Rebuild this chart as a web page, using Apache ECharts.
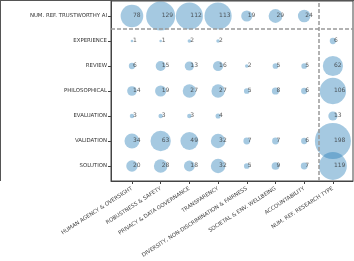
<!DOCTYPE html>
<html><head><meta charset="utf-8">
<script src="https://cdn.jsdelivr.net/npm/echarts@6/dist/echarts.min.js"></script>
<style>html,body{margin:0;padding:0;background:#fff}#c{width:354px;height:261px}</style>
</head><body><div id="c"></div>
<script>
const xCategories = ['HUMAN AGENCY & OVERSIGHT','ROBUSTNESS & SAFETY','PRIVACY & DATA GOVERNANCE','TRANSPARENCY','DIVERSITY, NON-DISCRIMINATION & FAIRNESS','SOCIETAL & ENV. WELLBEING','ACCOUNTABILITY','NUM. REF. RESEARCH TYPE'];
const yCategories = ['SOLUTION','VALIDATION','EVALUATION','PHILOSOPHICAL','REVIEW','EXPERIENCE','NUM. REF. TRUSTWORTHY AI'];
// values per row (null = no bubble), in xCategories order
const solution      = [20, 28, 18, 32, 5, 9, 7, 119];
const validation    = [34, 63, 49, 32, 7, 7, 6, 198];
const evaluation    = [3, 3, 3, 4, null, null, null, 13];
const philosophical = [14, 19, 27, 27, 5, 8, 6, 106];
const review        = [6, 15, 13, 16, 2, 5, 5, 62];
const experience    = [1, 1, 2, 2, null, null, null, 6];
const trustworthy   = [78, 129, 112, 113, 19, 29, 24, null];
const rows = [solution, validation, evaluation, philosophical, review, experience, trustworthy];

const data = [];
rows.forEach((r, yi) => r.forEach((v, xi) => { if (v != null) data.push([xi, yi, v]); }));

const chart = echarts.init(document.getElementById('c'), null, {renderer: 'canvas'});
const idx = (n) => Array.from({length: n}, (_, i) => i);
chart.setOption({
  animation: false,
  textStyle: {fontFamily: 'DejaVu Sans'},
  grid: {left: 111, right: 1, top: 1, bottom: 80, show: true, borderColor: '#444', borderWidth: 1, backgroundColor: 'transparent'},
  xAxis: {
    type: 'value', min: -0.73, max: 7.7,
    splitLine: {show: false},
    axisLine: {show: true, onZero: false, lineStyle: {color: '#444'}},
    axisTick: {show: true, length: 3, lineStyle: {color: '#444'}, customValues: idx(8)},
    axisLabel: {rotate: 33, fontSize: 5.4, color: '#444', margin: 7, customValues: idx(8),
      formatter: (v) => xCategories[Math.round(v)] || ''}
  },
  yAxis: {
    type: 'value', min: -0.6, max: 6.6,
    splitLine: {show: false},
    axisLine: {show: true, onZero: false, lineStyle: {color: '#444'}},
    axisTick: {show: true, length: 3, lineStyle: {color: '#444'}, customValues: idx(7)},
    axisLabel: {fontSize: 5.4, color: '#333', margin: 4, customValues: idx(7),
      formatter: (v) => yCategories[Math.round(v)] || ''}
  },
  series: [{
    type: 'scatter',
    data: data,
    symbolSize: (d) => 2.56 * Math.sqrt(d[2]),
    itemStyle: {color: 'rgba(31,119,180,0.5)'},
    label: {show: true, position: 'inside', align: 'left', verticalAlign: 'middle', offset: [1, -1],
      formatter: (p) => String(p.value[2]), fontSize: 6, color: '#333'},
    markLine: {
      silent: true, symbol: 'none', label: {show: false},
      lineStyle: {type: [4, 2], color: '#999', width: 1.5},
      data: [{xAxis: 6.5}, {yAxis: 5.5}]
    }
  }],
  graphic: [
    {type: 'line', shape: {x1: 0.5, y1: 0, x2: 0.5, y2: 181}, style: {stroke: '#555', lineWidth: 1}},
    {type: 'line', shape: {x1: 0, y1: 0.5, x2: 354, y2: 0.5}, style: {stroke: '#555', lineWidth: 1}}
  ]
});
</script></body></html>
